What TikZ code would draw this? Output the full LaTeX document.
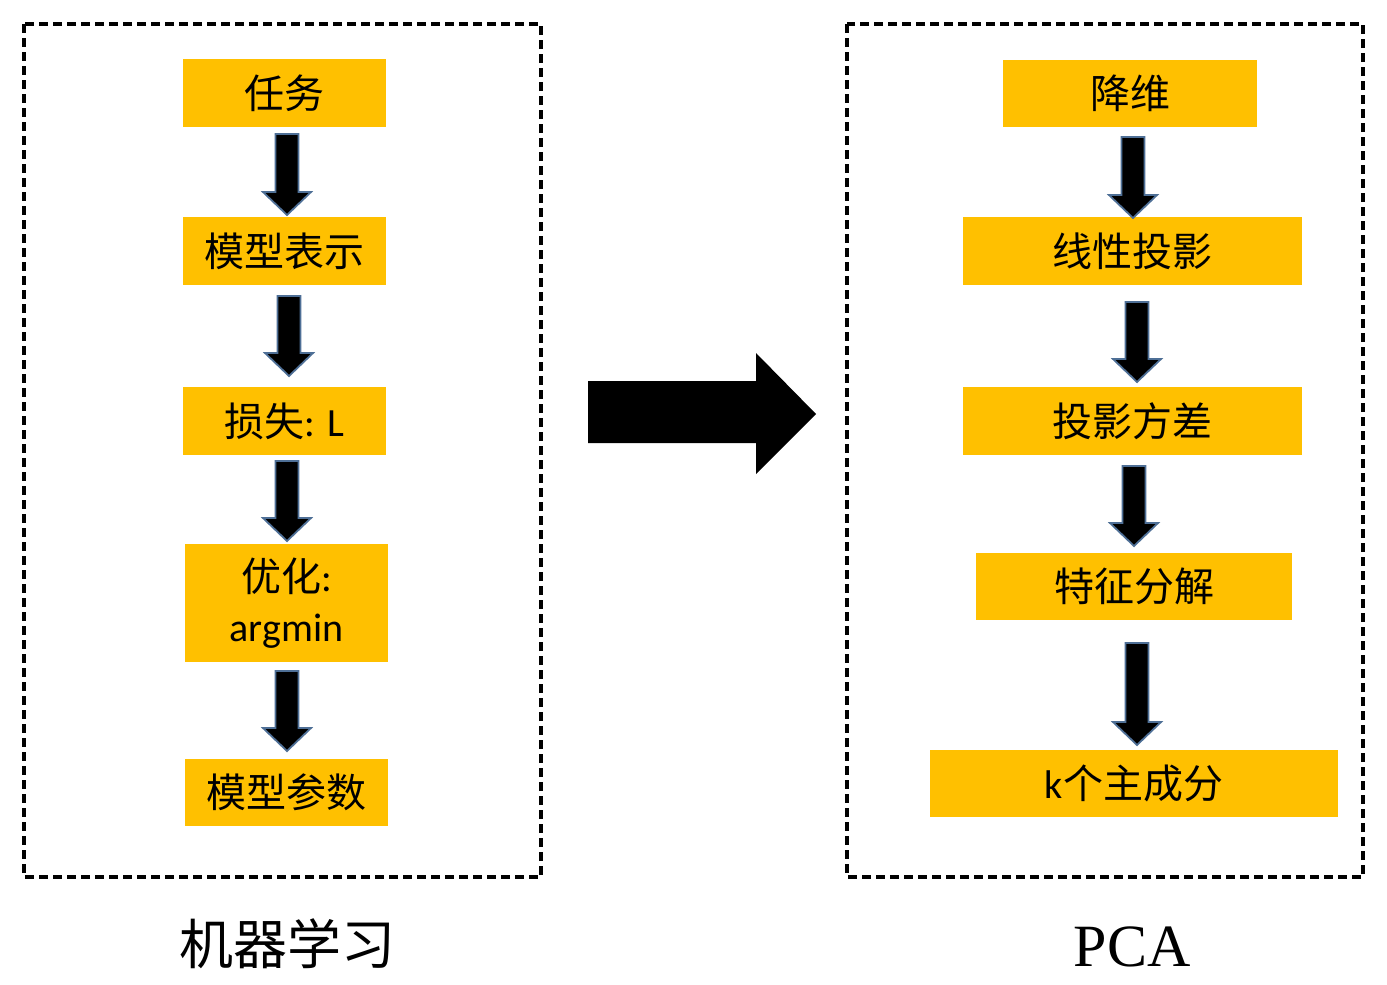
\documentclass[tikz,border=0pt]{standalone}
\usepackage{fontspec}
\setmainfont{Carlito}
\newfontfamily\cjk{Noto Sans CJK SC}
\newfontfamily\serifpca{Liberation Serif}
\definecolor{boxyellow}{HTML}{FFC000}
\definecolor{arrowedge}{HTML}{4E6F96}
\newcommand\downblock[3]{%
  \draw[blockarrow] ({#1-11.5},#2) -- ({#1+11.5},#2) -- ({#1+11.5},{#3-23}) -- ({#1+24},{#3-23})
    -- (#1,#3) -- ({#1-24},{#3-23}) -- ({#1-11.5},{#3-23}) -- cycle;}
\begin{document}
\begin{tikzpicture}[x=1pt,y=-1pt,
  ybox/.style={fill=boxyellow, draw=none, inner sep=0pt, align=center,
    font=\fontsize{40}{46}\selectfont},
  frame/.style={draw=black, line width=3.5pt, dash pattern=on 9pt off 5pt},
  blockarrow/.style={fill=black, draw=arrowedge, line width=1.8pt, line join=miter},
  caption/.style={inner sep=0pt}]
\useasboundingbox (0,0) rectangle (1387,985);
% frames
\draw[frame] (24,24) rectangle (541,877);
\draw[frame] (847,24) rectangle (1363,877);
% left column
\node[ybox, minimum width=203pt, minimum height=68pt] (t1) at (284.5,93) {\cjk 任务};
\node[ybox, minimum width=203pt, minimum height=68pt] (t2) at (284.5,251) {\cjk 模型表示};
\node[ybox, minimum width=203pt, minimum height=68pt] (t3) at (284.5,421) {{\cjk 损失}: L};
\node[ybox, minimum width=203pt, minimum height=118pt] (t4) at (286.5,603) {{\cjk 优化}:\\[4pt]argmin};
\node[ybox, minimum width=203pt, minimum height=67pt] (t5) at (286.5,792.5) {\cjk 模型参数};
% right column
\node[ybox, minimum width=254pt, minimum height=67pt] (p1) at (1130,93.5) {\cjk 降维};
\node[ybox, minimum width=339pt, minimum height=68pt] (p2) at (1132.5,251) {\cjk 线性投影};
\node[ybox, minimum width=339pt, minimum height=68pt] (p3) at (1132.5,421) {\cjk 投影方差};
\node[ybox, minimum width=316pt, minimum height=67pt] (p4) at (1134,586.5) {\cjk 特征分解};
\node[ybox, minimum width=408pt, minimum height=67pt] (p5) at (1134,783.5) {k{\cjk 个主成分}};
% block arrows, left
\downblock{287}{134}{215}
\downblock{289}{296}{376}
\downblock{287}{461}{541}
\downblock{287}{671}{751}
% block arrows, right
\downblock{1133}{137}{218}
\downblock{1137}{302}{382}
\downblock{1134}{466}{546}
\downblock{1137}{643}{745}
% big arrow
\fill[black] (588,381) -- (756,381) -- (756,353) -- (816,414) -- (756,474) -- (756,443) -- (588,443) -- cycle;
% captions
\node[caption, font=\cjk\fontsize{54}{60}\selectfont] (c1) at (287,944) {机器学习};
\node[caption, font=\serifpca\fontsize{60}{66}\selectfont] (c2) at (1132,947) {PCA};
\end{tikzpicture}
\end{document}
